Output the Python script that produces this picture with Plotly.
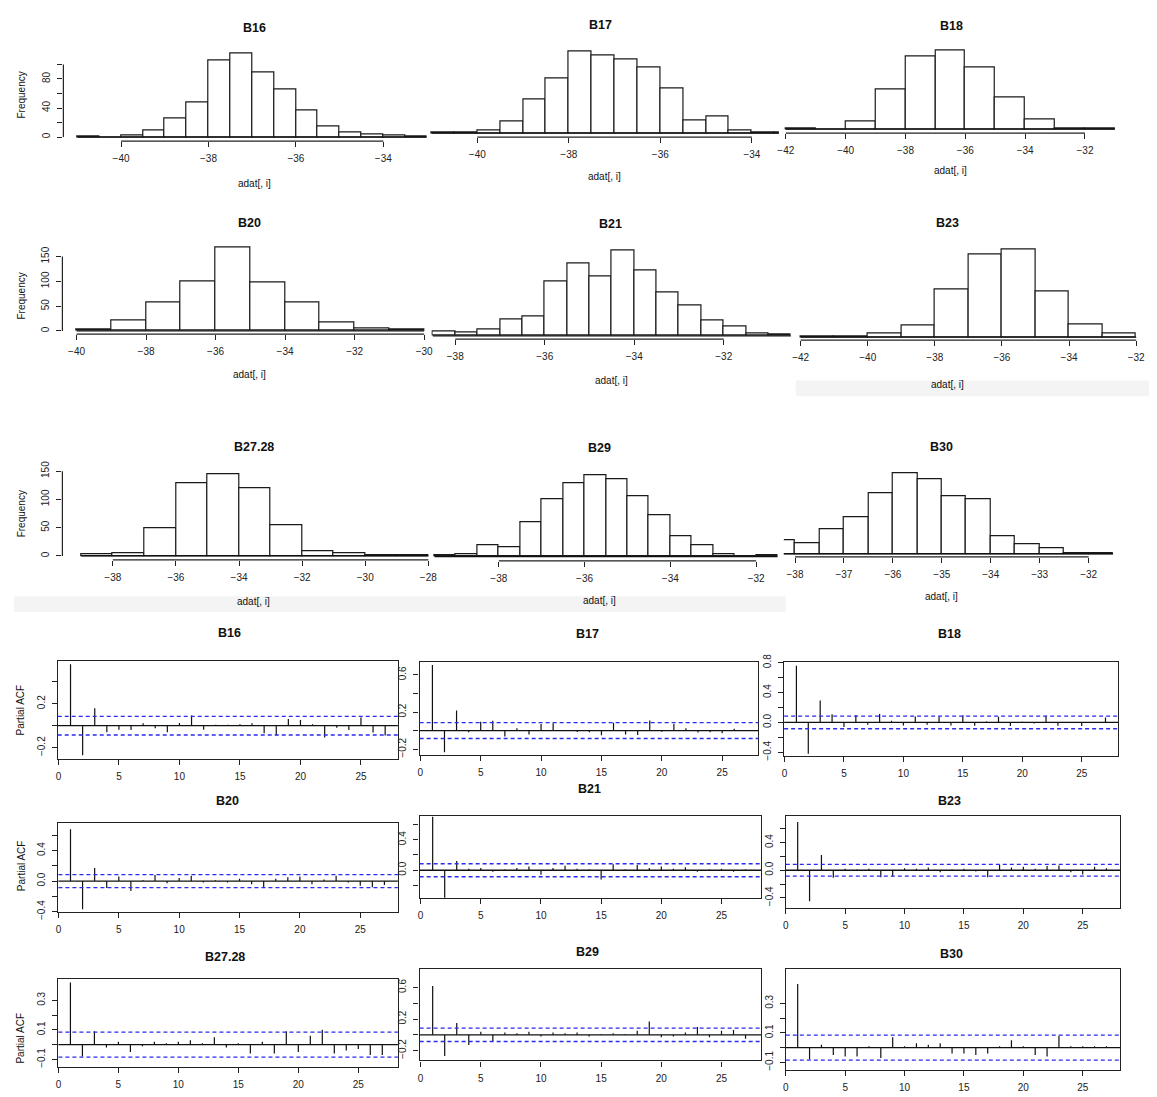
import numpy as np
import plotly.graph_objects as go

W, H = 1157, 1097

# ---------------- histogram data ----------------
hist_titles = ["B16", "B17", "B18", "B20", "B21", "B23", "B27.28", "B29", "B30"]
b16_start, b16_width = -41.0, 0.5
b16_counts = [1, 0, 2, 9, 25, 47, 106, 115, 89, 65, 37, 14, 6, 4, 2, 1]
b17_start, b17_width = -41.0, 0.5
b17_counts = [1, 1, 3, 13, 37, 59, 89, 85, 80, 72, 49, 14, 18, 3, 1, 1]
b18_start, b18_width = -42.0, 1.0
b18_counts = [2, 0, 13, 68, 124, 135, 106, 55, 16, 2, 1]
b20_start, b20_width = -40.0, 1.0
b20_counts = [3, 21, 57, 100, 168, 97, 58, 18, 5, 2]
b21_start, b21_width = -38.5, 0.5
b21_counts = [5, 4, 7, 18, 21, 59, 78, 64, 92, 70, 47, 33, 16, 10, 3, 1]
b23_start, b23_width = -42.0, 1.0
b23_counts = [1, 1, 6, 21, 86, 147, 157, 82, 22, 7]
b27_start, b27_width = -39.0, 1.0
b27_counts = [2, 4, 48, 128, 145, 119, 55, 9, 5, 1, 1]
b29_start, b29_width = -39.5, 0.5
b29_counts = [1, 3, 12, 10, 37, 62, 79, 88, 83, 65, 44, 22, 12, 2, 0, 1]
b30_start, b30_width = -38.5, 0.5
b30_counts = [16, 12, 28, 43, 70, 94, 87, 67, 63, 20, 11, 7, 1, 1]

b16_xticks = [-40, -38, -36, -34]
b17_xticks = [-40, -38, -36, -34]
b18_xticks = [-42, -40, -38, -36, -34, -32]
b20_xticks = [-40, -38, -36, -34, -32, -30]
b21_xticks = [-38, -36, -34, -32]
b23_xticks = [-42, -40, -38, -36, -34, -32]
b27_xticks = [-38, -36, -34, -32, -30, -28]
b29_xticks = [-38, -36, -34, -32]
b30_xticks = [-38, -37, -36, -35, -34, -33, -32]
b16_yticks = [0, 20, 40, 60, 80, 100]
b16_ylabels = ["0", "", "40", "", "80", ""]
b20_yticks = [0, 50, 100, 150]
b20_ylabels = ["0", "50", "100", "150"]
b27_yticks = [0, 50, 100, 150]
b27_ylabels = ["0", "50", "100", "150"]

# ---------------- PACF data (lags 1..27) ----------------
pacf_titles = ["B16", "B17", "B18", "B20", "B21", "B23", "B27.28", "B29", "B30"]
lags = list(range(1, 28))
pacf_b16 = [0.558, -0.269, 0.158, -0.06, -0.036, -0.039, 0.021, -0.024, -0.06, 0.024, 0.093, -0.036, 0.009, 0.009,
            0.012, 0.021, -0.069, -0.087, 0.06, 0.051, 0.012, -0.107, -0.018, -0.039, 0.075, -0.063, -0.09]
pacf_b17 = [0.707, -0.233, 0.216, -0.018, 0.095, 0.106, -0.064, 0.025, -0.042, 0.071, 0.078, 0.007, -0.014, -0.018,
            -0.049, 0.085, -0.042, -0.046, 0.11, -0.011, 0.071, 0.025, -0.021, -0.018, -0.028, 0.021, 0.0]
pacf_b18 = [0.76, -0.418, 0.295, 0.11, -0.062, 0.101, -0.031, 0.114, 0.022, -0.04, 0.079, -0.031, 0.079, -0.04,
            0.097, -0.044, 0.013, 0.075, -0.048, 0.009, -0.013, 0.088, -0.044, -0.004, -0.048, 0.0, 0.066]
pacf_b20 = [0.68, -0.37, 0.17, -0.09, 0.06, -0.13, 0.01, 0.08, -0.03, 0.04, 0.07, -0.02, 0.01, -0.02,
            0.03, -0.04, -0.09, 0.03, 0.05, 0.06, -0.04, 0.02, 0.07, -0.02, -0.06, -0.08, -0.05]
pacf_b21 = [0.70, -0.40, 0.12, 0.02, 0.03, -0.02, 0.01, 0.03, 0.05, -0.06, 0.03, 0.06, 0.02, 0.01,
            -0.12, 0.08, 0.01, 0.07, 0.03, 0.05, 0.02, 0.04, -0.02, 0.01, 0.02, -0.02, 0.01]
pacf_b23 = [0.70, -0.45, 0.22, -0.11, 0.02, 0.01, 0.02, -0.10, -0.09, 0.03, 0.02, 0.04, -0.03, 0.01,
            0.02, -0.02, -0.10, 0.08, 0.04, 0.05, 0.02, 0.06, 0.07, -0.03, -0.06, 0.05, 0.03]
pacf_b27 = [0.42, -0.08, 0.09, -0.02, 0.02, -0.05, -0.01, 0.02, 0.01, 0.02, 0.03, 0.01, 0.05, -0.02,
            0.01, -0.06, 0.02, -0.06, 0.09, -0.05, 0.06, 0.10, -0.06, -0.04, -0.03, -0.07, -0.07]
pacf_b29 = [0.62, -0.27, 0.15, -0.13, 0.04, -0.08, 0.03, 0.02, 0.04, -0.02, 0.03, 0.02, 0.03, -0.02,
            0.01, 0.02, 0.01, 0.05, 0.17, -0.03, -0.02, 0.03, 0.10, -0.03, 0.05, 0.06, -0.05]
pacf_b30 = [0.43, -0.08, 0.02, -0.05, -0.06, -0.06, 0.01, -0.07, 0.07, 0.01, 0.03, 0.02, 0.03, -0.04,
            -0.04, -0.05, -0.04, 0.01, 0.05, 0.01, -0.05, -0.06, 0.08, 0.01, 0.01, 0.01, 0.01]
pacf_ci = 0.085
pacf_xticks = [0, 5, 10, 15, 20, 25]

p16_yt, p16_yl = [-0.2, 0.0, 0.2, 0.4], ["-0.2", "", "0.2", ""]
p17_yt, p17_yl = [-0.2, 0.0, 0.2, 0.4, 0.6], ["-0.2", "", "0.2", "", "0.6"]
p18_yt, p18_yl = [-0.4, -0.2, 0.0, 0.2, 0.4, 0.6, 0.8], ["-0.4", "", "0.0", "", "0.4", "", "0.8"]
p20_yt, p20_yl = [-0.4, -0.2, 0.0, 0.2, 0.4, 0.6], ["-0.4", "", "0.0", "", "0.4", ""]
p21_yt, p21_yl = [-0.4, -0.2, 0.0, 0.2, 0.4, 0.6], ["-0.4", "", "0.0", "", "0.4", ""]
p23_yt, p23_yl = [-0.4, -0.2, 0.0, 0.2, 0.4, 0.6], ["-0.4", "", "0.0", "", "0.4", ""]
p27_yt, p27_yl = [-0.1, 0.0, 0.1, 0.2, 0.3], ["-0.1", "", "0.1", "", "0.3"]
p29_yt, p29_yl = [-0.2, 0.0, 0.2, 0.4, 0.6], ["-0.2", "", "0.2", "", "0.6"]
p30_yt, p30_yl = [-0.1, 0.0, 0.1, 0.2, 0.3], ["-0.1", "", "0.1", "", "0.3"]

FONT = "Liberation Sans, Arial, Helvetica, sans-serif"
TICKFONT = dict(family=FONT, size=10, color="#222")


def lin(p, p1, v1, p2, v2):
    return v1 + (p - p1) * (v2 - v1) / (p2 - p1)


fig = go.Figure()
axes = {}
shapes = []
annotations = []


def names(i):
    s = "" if i == 1 else str(i)
    return "xaxis" + s, "yaxis" + s, "x" + s, "y" + s


def text(px, py, s, size=10, bold=False, angle=0):
    annotations.append(dict(
        x=px / W, y=1 - py / H, xref="paper", yref="paper", text=("<b>%s</b>" % s) if bold else s,
        showarrow=False, textangle=angle, xanchor="center", yanchor="middle",
        font=dict(family=FONT, size=size, color="#111")))


def hist_panel(i, start, width, counts, xticks, box, xmap, ymap, yticks=None, ylabels=None):
    xa, ya, xr, yr = names(i)
    L, R, T, B = box
    n = len(counts)
    breaks = start + width * np.arange(n + 1)
    centers = breaks[:-1] + width / 2
    fig.add_trace(go.Bar(x=centers, y=counts, width=width, xaxis=xr, yaxis=yr,
                         marker=dict(color="white", line=dict(color="#1a1a1a", width=1.2)),
                         showlegend=False, hoverinfo="x+y"))
    fig.add_trace(go.Scatter(x=[breaks[0], breaks[-1]], y=[0, 0], mode="lines", xaxis=xr, yaxis=yr,
                             line=dict(color="#111", width=1.3), showlegend=False, hoverinfo="skip"))
    x0, x1 = lin(L, *xmap), lin(R, *xmap)
    y0, y1 = lin(B, *ymap), lin(T, *ymap)
    axes[xa] = dict(domain=[L / W, R / W], range=[x0, x1], anchor=yr, showgrid=False, zeroline=False,
                    showline=False, ticks="outside", ticklen=5, tickwidth=1, tickcolor="#222",
                    tickvals=xticks, ticktext=["\u2212%g" % abs(v) if v < 0 else "%g" % v for v in xticks],
                    tickfont=TICKFONT, ticklabelstandoff=3, fixedrange=True)
    vis = [v for v in xticks if x0 <= v <= x1]
    shapes.append(dict(type="line", xref=xr, yref=yr + " domain", x0=vis[0], x1=vis[-1], y0=0, y1=0,
                       line=dict(color="#222", width=1.2)))
    if yticks is not None:
        axes[ya] = dict(domain=[1 - B / H, 1 - T / H], range=[y0, y1], anchor=xr, showgrid=False,
                        zeroline=False, showline=False, ticks="outside", ticklen=5, tickwidth=1,
                        tickcolor="#222", tickvals=yticks, ticktext=ylabels, tickangle=-90,
                        tickfont=TICKFONT, ticklabelstandoff=3, fixedrange=True)
        shapes.append(dict(type="line", xref=xr + " domain", yref=yr, x0=0, x1=0, y0=yticks[0],
                           y1=yticks[-1], line=dict(color="#222", width=1.2)))
    else:
        axes[ya] = dict(domain=[1 - B / H, 1 - T / H], range=[y0, y1], anchor=xr, visible=False,
                        fixedrange=True)


def pacf_panel(i, vals, box, xmap, ymap, yticks, ylabels):
    xa, ya, xr, yr = names(i)
    L, R, T, B = box
    xs, ys = [], []
    for lg, v in zip(lags, vals):
        xs += [lg, lg, None]
        ys += [0, v, None]
    fig.add_trace(go.Scatter(x=xs, y=ys, mode="lines", xaxis=xr, yaxis=yr,
                             line=dict(color="#111", width=1.2), showlegend=False, hoverinfo="skip"))
    x0, x1 = lin(L, *xmap), lin(R, *xmap)
    y0, y1 = lin(B, *ymap), lin(T, *ymap)
    axes[xa] = dict(domain=[L / W, R / W], range=[x0, x1], anchor=yr, showgrid=False, zeroline=False,
                    showline=True, mirror=True, linecolor="#222", linewidth=1.3,
                    ticks="outside", ticklen=5, tickwidth=1, tickcolor="#222",
                    tickvals=pacf_xticks, ticktext=[str(v) for v in pacf_xticks],
                    tickfont=TICKFONT, ticklabelstandoff=3, fixedrange=True)
    axes[ya] = dict(domain=[1 - B / H, 1 - T / H], range=[y0, y1], anchor=xr, showgrid=False,
                    zeroline=False, showline=True, mirror=True, linecolor="#222", linewidth=1.3,
                    ticks="outside", ticklen=5, tickwidth=1, tickcolor="#222",
                    tickvals=yticks, ticktext=[t.replace("-", "\u2212") for t in ylabels], tickangle=-90,
                    tickfont=TICKFONT, ticklabelstandoff=3, fixedrange=True)
    shapes.append(dict(type="line", xref=xr + " domain", yref=yr, x0=0, x1=1, y0=0, y1=0,
                       line=dict(color="#111", width=1.3)))
    for c in (pacf_ci, -pacf_ci):
        shapes.append(dict(type="line", xref=xr + " domain", yref=yr, x0=0, x1=1, y0=c, y1=c,
                           line=dict(color="#2a2af0", width=1.3, dash="4px,3px")))


shapes.append(dict(type="rect", xref="paper", yref="paper", x0=800 / W, x1=1.0, y0=1 - 394 / H,
                   y1=1 - 378 / H, fillcolor="#f4f4f4", line=dict(width=0), layer="below"))
shapes.append(dict(type="rect", xref="paper", yref="paper", x0=10 / W, x1=790 / W, y0=1 - 613 / H,
                   y1=1 - 597 / H, fillcolor="#f4f4f4", line=dict(width=0), layer="below"))

hist_panel(1, b16_start, b16_width, b16_counts, b16_xticks, (60, 427, 38, 135),
           (118.3, -40, 383.3, -34), (131, 0, 72, 80), b16_yticks, b16_ylabels)
hist_panel(2, b17_start, b17_width, b17_counts, b17_xticks, (430, 783, 38, 131),
           (478.3, -40, 755.7, -34), (127, 0, 44, 89))
hist_panel(3, b18_start, b18_width, b18_counts, b18_xticks, (786, 1140, 38, 127),
           (790, -42, 1092.3, -32), (123, 0, 43, 135))
hist_panel(4, b20_start, b20_width, b20_counts, b20_xticks, (59, 430, 240, 331),
           (73.3, -40, 354.3, -32), (327.7, 0, 252.3, 150), b20_yticks, b20_ylabels)
hist_panel(5, b21_start, b21_width, b21_counts, b21_xticks, (432, 796, 235, 336),
           (456, -38, 727.3, -32), (332.7, 0, 246.3, 92))
hist_panel(6, b23_start, b23_width, b23_counts, b23_xticks, (799, 1150, 235, 337),
           (805, -42, 1144, -32), (334, 0, 245, 157))
hist_panel(7, b27_start, b27_width, b27_counts, b27_xticks, (59, 430, 460, 560),
           (110, -38, 365, -30), (556, 0, 470, 150), b27_yticks, b27_ylabels)
hist_panel(8, b29_start, b29_width, b29_counts, b29_xticks, (433, 785, 460, 561),
           (500, -38, 760, -32), (556.7, 0, 473.7, 88))
hist_panel(9, b30_start, b30_width, b30_counts, b30_xticks, (788, 1150, 460, 557),
           (799.3, -38, 1096, -32), (554, 0, 471.7, 94))

pacf_panel(10, pacf_b16, (54.3, 398, 662.7, 761.7), (55, 0, 360.7, 25), (728.3, 0, 706, 0.2), p16_yt, p16_yl)
pacf_panel(11, pacf_b17, (420, 762.3, 663.3, 758), (420.7, 0, 725.7, 25), (733.3, 0, 676.7, 0.6), p17_yt, p17_yl)
pacf_panel(12, pacf_b18, (788.3, 1125.7, 663.7, 759), (788.7, 0, 1089, 25), (725, 0, 694.7, 0.4), p18_yt, p18_yl)
pacf_panel(13, pacf_b20, (55, 398, 827, 917), (55, 0, 360, 25), (886, 0, 855, 0.4), p20_yt, p20_yl)
pacf_panel(14, pacf_b21, (420, 765, 820, 903), (421, 0, 725, 25), (875, 0, 844, 0.4), p21_yt, p21_yl)
pacf_panel(15, pacf_b23, (790, 1128, 820, 913), (790, 0, 1090, 25), (875, 0, 847, 0.4), p23_yt, p23_yl)
pacf_panel(16, pacf_b27, (55, 398, 985, 1075), (55, 0, 358, 25), (1052, 0, 1037, 0.1), p27_yt, p27_yl)
pacf_panel(17, pacf_b29, (420, 765, 975, 1068), (421, 0, 725, 25), (1042, 0, 1026, 0.2), p29_yt, p29_yl)
pacf_panel(18, pacf_b30, (790, 1128, 975, 1078), (790, 0, 1090, 25), (1055, 0, 1040, 0.1), p30_yt, p30_yl)

hist_title_pos = [(253, 20), (603, 17), (957, 18), (248, 218), (613, 219), (953, 218), (253, 446), (602, 447),
                  (947, 445)]
for t, (px, py) in zip(hist_titles, hist_title_pos):
    text(px, py, t, size=12.5, bold=True)
hist_xlab_pos = [(253, 178), (607, 171), (956, 165), (248, 372), (614, 378), (953, 382), (252, 602), (602, 601),
                 (947, 597)]
for px, py in hist_xlab_pos:
    text(px, py, "adat[, i]", size=10)
for py in (88, 292, 513):
    text(18, py, "Frequency", size=10, angle=-90)

pacf_title_pos = [(228, 634), (590, 635), (955, 635), (226, 805), (592, 793), (955, 805), (223, 963), (590, 958),
                  (957, 960)]
for t, (px, py) in zip(pacf_titles, pacf_title_pos):
    text(px, py, t, size=12.5, bold=True)
for py in (712, 870, 1045):
    text(17, py, "Partial ACF", size=10, angle=-90)

fig.update_layout(width=W, height=H, margin=dict(l=0, r=0, t=0, b=0), paper_bgcolor="white",
                  plot_bgcolor="rgba(0,0,0,0)", shapes=shapes, annotations=annotations, showlegend=False,
                  bargap=0, **axes)
fig.write_html("out.html")
